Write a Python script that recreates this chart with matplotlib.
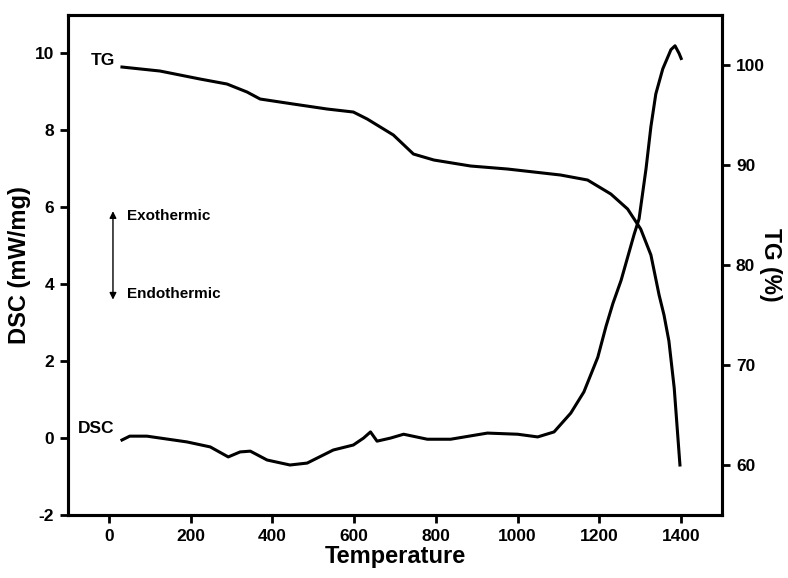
import matplotlib.pyplot as plt

plt.rcParams['font.family'] = ['Liberation Sans', 'DejaVu Sans']
plt.rcParams['font.weight'] = 'bold'
plt.rcParams['axes.unicode_minus'] = False

# === DATA ===
tg_temp = [32, 125, 223, 289, 338, 370, 451, 534, 598, 632, 696, 745, 795, 885,
           975, 1105, 1171, 1228, 1269, 1301, 1326, 1346, 1358, 1370, 1383, 1397]
tg_val = [99.8, 99.4, 98.6, 98.1, 97.3, 96.6, 96.1, 95.6, 95.3, 94.6, 93.0, 91.1, 90.5, 89.9,
          89.6, 89.0, 88.5, 87.1, 85.6, 83.6, 81.0, 77.0, 75.0, 72.4, 67.7, 60.0]

dsc_temp = [32, 51, 93, 191, 248, 292, 321, 346, 387, 443, 485, 549, 598, 623, 640, 656,
            689, 721, 779, 836, 926, 1000, 1049, 1089, 1130, 1162, 1196, 1216, 1233, 1253,
            1285, 1297, 1314, 1326, 1338, 1355, 1375, 1385, 1395, 1400]
dsc_val = [-0.05, 0.05, 0.05, -0.1, -0.23, -0.49, -0.36, -0.34, -0.57, -0.70, -0.65, -0.31,
           -0.18, 0.0, 0.16, -0.08, 0.0, 0.1, -0.03, -0.03, 0.13, 0.1, 0.03, 0.16, 0.65, 1.2,
           2.1, 2.9, 3.5, 4.1, 5.3, 5.7, 7.0, 8.1, 8.95, 9.6, 10.1, 10.2, 10.0, 9.87]

x_ticks = [0, 200, 400, 600, 800, 1000, 1200, 1400]
dsc_ticks = [-2, 0, 2, 4, 6, 8, 10]
tg_ticks = [60, 70, 80, 90, 100]

# === PLOT ===
fig = plt.figure(figsize=(7.88, 5.78), dpi=100)
ax1 = fig.add_axes([0.0863, 0.109, 0.83, 0.865])
ax2 = ax1.twinx()

ax1.plot(dsc_temp, dsc_val, color='black', linewidth=2.2, solid_joinstyle='round')
ax2.plot(tg_temp, tg_val, color='black', linewidth=2.2, solid_joinstyle='round')

ax1.set_xlim(-100, 1500)
ax1.set_ylim(-2, 11)
ax2.set_ylim(55, 105)
ax1.set_xticks(x_ticks)
ax1.set_yticks(dsc_ticks)
ax2.set_yticks(tg_ticks)

for ax in (ax1, ax2):
    for sp in ax.spines.values():
        sp.set_linewidth(2.2)
    ax.tick_params(direction='out', length=6, width=2, labelsize=12.5, pad=4)
    for lbl in ax.get_xticklabels() + ax.get_yticklabels():
        lbl.set_fontweight('bold')

ax1.set_xlabel("Temperature", fontsize=17, fontweight='bold', labelpad=1)
ax1.set_ylabel("DSC (mW/mg)", fontsize=17, fontweight='bold', labelpad=3)
ax2.set_ylabel("TG (%)", fontsize=16.5, fontweight='bold', rotation=270, labelpad=12)

# curve labels
ax1.text(-15, 9.82, "TG", fontsize=12.5, fontweight='bold', ha='center', va='center')
ax1.text(-32, 0.25, "DSC", fontsize=12.5, fontweight='bold', ha='center', va='center')

# exo / endo arrow
ax1.annotate('', xy=(10, 5.9), xytext=(10, 3.6),
             arrowprops=dict(arrowstyle='<|-|>', color='black', lw=1.0,
                             mutation_scale=10, shrinkA=0, shrinkB=0))
ax1.text(44, 5.77, "Exothermic", fontsize=11, fontweight='bold', va='center')
ax1.text(44, 3.74, "Endothermic", fontsize=11, fontweight='bold', va='center')

plt.savefig("out.png", dpi=100)
